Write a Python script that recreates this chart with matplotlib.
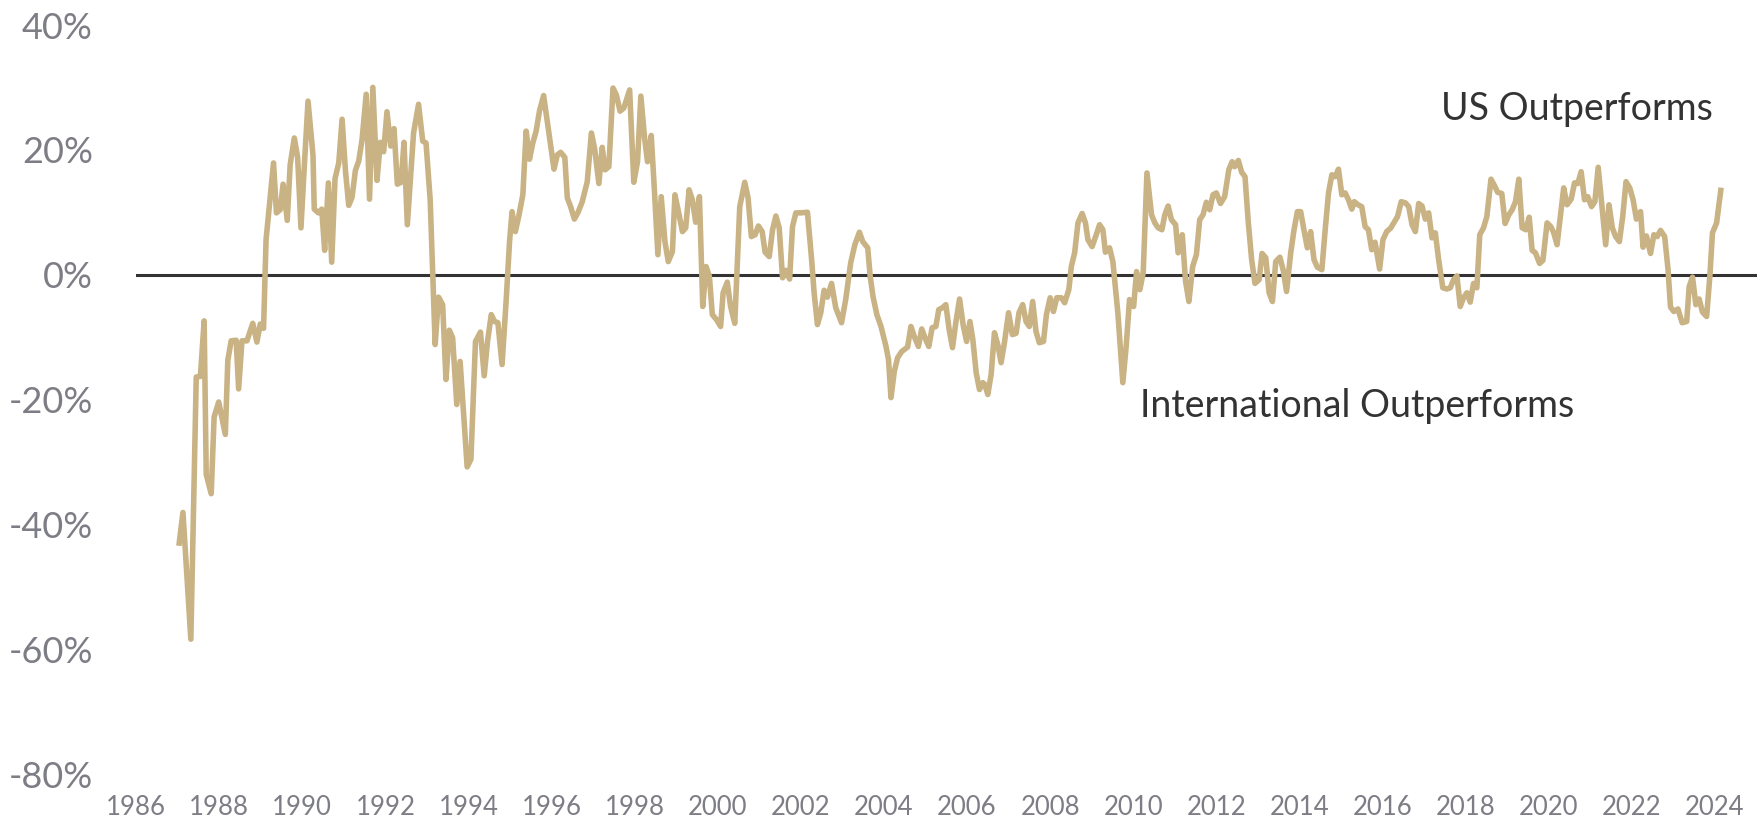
import matplotlib
matplotlib.use("Agg")
import matplotlib.pyplot as plt

# Decimal year of each observation and relative performance (%)
years = [
    1987.04, 1987.13, 1987.32, 1987.45, 1987.55, 1987.64, 1987.69, 1987.81, 1987.88, 1987.99,
    1988.15, 1988.21, 1988.29, 1988.41, 1988.47, 1988.55, 1988.67, 1988.81, 1988.91, 1988.99,
    1989.07, 1989.13, 1989.21, 1989.31, 1989.38, 1989.47, 1989.54, 1989.64, 1989.71, 1989.81,
    1989.89, 1989.97, 1990.05, 1990.14, 1990.26, 1990.29, 1990.39, 1990.47, 1990.54, 1990.63,
    1990.71, 1990.79, 1990.88, 1990.96, 1991.04, 1991.12, 1991.20, 1991.28, 1991.36, 1991.44,
    1991.54, 1991.62, 1991.70, 1991.80, 1991.88, 1991.96, 1992.04, 1992.13, 1992.21, 1992.29,
    1992.38, 1992.45, 1992.53, 1992.68, 1992.80,
    1992.90, 1992.98, 1993.08, 1993.20, 1993.28, 1993.38, 1993.46, 1993.54, 1993.62, 1993.72,
    1993.80, 1993.97, 1994.06, 1994.17, 1994.29, 1994.38, 1994.46, 1994.55, 1994.63, 1994.71,
    1994.81, 1994.91, 1994.99, 1995.05, 1995.13, 1995.21, 1995.31, 1995.39, 1995.47, 1995.55,
    1995.63, 1995.71, 1995.81, 1995.93, 1996.06, 1996.14, 1996.22, 1996.32, 1996.38, 1996.46,
    1996.55, 1996.64, 1996.74, 1996.86, 1996.96, 1997.04, 1997.14, 1997.22, 1997.29, 1997.38,
    1997.48, 1997.56, 1997.65, 1997.74, 1997.88, 1997.98, 1998.07, 1998.15, 1998.24, 1998.31,
    1998.40, 1998.48, 1998.56, 1998.64, 1998.73, 1998.81, 1998.91, 1998.97, 1999.07, 1999.15,
    1999.23,
    1999.31, 1999.39, 1999.47, 1999.56, 1999.64, 1999.72, 1999.80, 1999.87, 1999.97, 2000.07,
    2000.13, 2000.23, 2000.31, 2000.41, 2000.53, 2000.65, 2000.73, 2000.81, 2000.90, 2000.98,
    2001.07, 2001.14, 2001.24, 2001.32, 2001.40, 2001.48, 2001.56, 2001.64, 2001.73, 2001.80,
    2001.88, 2002.00, 2002.16, 2002.26, 2002.32, 2002.40, 2002.48, 2002.56, 2002.64, 2002.74,
    2002.84, 2002.98, 2003.08, 2003.20, 2003.30, 2003.41, 2003.49, 2003.61, 2003.67, 2003.74,
    2003.83, 2003.93, 2004.05, 2004.11, 2004.17, 2004.25, 2004.33, 2004.43, 2004.57, 2004.65,
    2004.73, 2004.83, 2004.91, 2005.00, 2005.08, 2005.16, 2005.25, 2005.32,
    2005.41, 2005.49, 2005.57, 2005.65, 2005.73, 2005.82, 2005.91, 2005.99, 2006.07, 2006.14,
    2006.22, 2006.30, 2006.38, 2006.43, 2006.50, 2006.58, 2006.66, 2006.74, 2006.82, 2006.90,
    2007.00, 2007.09, 2007.18, 2007.25, 2007.34, 2007.42, 2007.50, 2007.58, 2007.66, 2007.74,
    2007.84, 2007.91, 2008.00, 2008.08, 2008.16, 2008.27, 2008.35, 2008.45, 2008.51, 2008.59,
    2008.67, 2008.77, 2008.85, 2008.91, 2009.01, 2009.10, 2009.19, 2009.27, 2009.33, 2009.43,
    2009.51, 2009.63, 2009.75, 2009.83, 2009.91, 2010.01, 2010.08, 2010.16, 2010.24, 2010.33,
    2010.44, 2010.52, 2010.60, 2010.69, 2010.76, 2010.84, 2010.92, 2011.02, 2011.08, 2011.18,
    2011.26, 2011.34, 2011.43, 2011.52, 2011.60, 2011.68,
    2011.76, 2011.84, 2011.92, 2012.00, 2012.10, 2012.20, 2012.30, 2012.38, 2012.44, 2012.53,
    2012.61, 2012.69, 2012.77, 2012.85, 2012.93, 2013.03, 2013.10, 2013.19, 2013.27, 2013.35,
    2013.43, 2013.53, 2013.61, 2013.69, 2013.79, 2013.87, 2013.95, 2014.03, 2014.11, 2014.19,
    2014.27, 2014.35, 2014.43, 2014.54, 2014.62, 2014.70, 2014.78, 2014.86, 2014.94, 2015.02,
    2015.10, 2015.18, 2015.26, 2015.32, 2015.41, 2015.50, 2015.58, 2015.66, 2015.74, 2015.82,
    2015.93, 2016.01, 2016.10, 2016.20, 2016.29, 2016.36, 2016.45, 2016.55, 2016.63, 2016.71,
    2016.79, 2016.87, 2016.95, 2017.03, 2017.11, 2017.19, 2017.27, 2017.35, 2017.45, 2017.55,
    2017.63, 2017.71, 2017.79,
    2017.87, 2017.95, 2018.03, 2018.11, 2018.19, 2018.27, 2018.34, 2018.43, 2018.51, 2018.61,
    2018.70, 2018.77, 2018.87, 2018.95, 2019.04, 2019.12, 2019.20, 2019.28, 2019.36, 2019.45,
    2019.53, 2019.60, 2019.68, 2019.78, 2019.86, 2019.96, 2020.05, 2020.12, 2020.20, 2020.28,
    2020.36, 2020.44, 2020.54, 2020.62, 2020.70, 2020.78, 2020.86, 2020.94, 2021.03, 2021.11,
    2021.19, 2021.29, 2021.37, 2021.45, 2021.53, 2021.61, 2021.70, 2021.78, 2021.86, 2021.95,
    2022.03, 2022.11, 2022.21, 2022.27, 2022.35, 2022.45, 2022.53, 2022.61, 2022.69, 2022.79,
    2022.87, 2022.93, 2023.01, 2023.11, 2023.21, 2023.32, 2023.38, 2023.46, 2023.54, 2023.62,
    2023.70, 2023.80, 2023.88, 2023.94, 2024.04, 2024.14,
]

relative_pct = [
    -43.0, -38.1, -58.4, -16.4, -16.3, -7.4, -32.0, -35.1, -22.8, -20.4,
    -25.6, -13.7, -10.6, -10.5, -18.3, -10.6, -10.6, -7.8, -10.8, -7.9,
    -8.6, 5.6, 11.1, 17.9, 9.9, 10.4, 14.5, 8.7, 17.6, 21.9,
    18.8, 7.5, 17.3, 27.8, 19.1, 10.5, 9.9, 10.5, 3.9, 14.7,
    2.0, 15.4, 17.9, 24.9, 16.7, 11.1, 12.4, 16.7, 18.2, 21.6,
    28.9, 12.1, 30.0, 15.1, 21.2, 19.7, 26.1, 20.6, 23.4, 14.5,
    14.8, 21.2, 8.0, 22.7, 27.3,
    21.4, 21.1, 12.0, -11.2, -3.6, -4.8, -16.8, -8.9, -10.1, -20.8,
    -13.9, -30.8, -29.6, -10.7, -9.2, -16.2, -10.7, -6.4, -7.5, -7.7,
    -14.4, -4.0, 5.3, 10.1, 6.9, 9.3, 12.8, 23.0, 18.5, 21.1,
    23.0, 26.2, 28.7, 23.0, 16.9, 19.2, 19.6, 18.8, 12.3, 10.9,
    8.9, 10.0, 11.7, 14.9, 22.7, 20.1, 14.6, 20.4, 16.8, 17.3,
    29.9, 28.8, 26.2, 26.7, 29.6, 14.8, 18.1, 28.6, 21.9, 18.1,
    22.3, 13.1, 3.2, 12.5, 5.3, 2.1, 3.7, 12.8, 9.6, 6.9,
    7.5,
    13.6, 12.0, 8.4, 12.5, -5.1, 1.3, -0.3, -6.4, -7.2, -8.3,
    -2.9, -1.2, -5.1, -7.8, 10.9, 14.8, 12.3, 6.1, 6.4, 7.8,
    6.9, 3.6, 2.9, 7.2, 9.4, 7.5, -0.5, 0.7, -0.7, 7.7,
    9.9, 9.9, 10.0, 2.4, -2.9, -8.0, -6.1, -2.5, -3.6, -1.4,
    -5.3, -7.7, -4.0, 1.9, 4.8, 6.8, 5.3, 4.3, -0.3, -3.6,
    -6.4, -8.3, -11.5, -13.6, -19.7, -15.5, -13.3, -12.3, -11.6, -8.3,
    -9.9, -11.5, -8.7, -10.3, -11.5, -8.5, -8.3, -5.6,
    -5.3, -4.8, -8.8, -11.7, -7.7, -3.9, -8.2, -10.7, -7.5, -10.4,
    -15.7, -18.4, -17.3, -17.6, -19.2, -16.0, -9.3, -11.2, -14.1, -10.9,
    -6.1, -9.6, -9.4, -6.1, -4.8, -7.5, -8.3, -4.3, -9.1, -10.9,
    -10.7, -6.4, -3.7, -5.9, -3.7, -3.7, -4.5, -2.4, 1.3, 3.5,
    8.3, 9.8, 8.3, 5.6, 4.5, 6.2, 8.0, 7.2, 3.6, 4.3,
    2.1, -6.1, -17.3, -11.5, -4.0, -5.1, 0.5, -2.4, 0.3, 16.3,
    9.6, 8.3, 7.5, 7.2, 9.6, 11.0, 8.8, 8.0, 3.5, 6.4,
    -1.1, -4.3, 1.3, 3.2, 8.8, 9.6,
    11.6, 10.4, 12.8, 13.1, 11.4, 12.5, 16.8, 18.1, 17.3, 18.3,
    16.4, 15.7, 8.3, 2.4, -1.4, -0.8, 3.4, 2.7, -2.9, -4.3,
    2.1, 2.8, 0.7, -2.7, 3.5, 7.2, 10.1, 10.1, 7.1, 4.3,
    6.9, 2.4, 1.2, 0.8, 7.2, 13.1, 16.0, 15.7, 16.9, 12.8,
    13.1, 12.0, 10.5, 11.7, 11.2, 10.9, 7.7, 7.2, 4.0, 5.2,
    0.9, 5.6, 6.9, 7.5, 8.5, 9.3, 11.7, 11.5, 10.9, 8.0,
    6.9, 11.4, 11.0, 8.9, 9.9, 5.9, 6.7, 2.4, -2.1, -2.3,
    -2.1, -0.8, -0.2,
    -5.1, -3.7, -2.9, -4.4, -1.4, -2.1, 6.4, 7.5, 9.3, 15.3,
    14.2, 13.2, 13.0, 8.2, 9.6, 10.4, 11.7, 15.3, 7.5, 7.2,
    9.2, 3.9, 3.5, 1.8, 2.3, 8.3, 7.7, 6.7, 4.8, 9.3,
    13.9, 11.2, 12.1, 14.7, 14.6, 16.5, 12.0, 12.5, 10.9, 11.7,
    17.2, 10.4, 4.8, 11.2, 7.5, 6.1, 5.3, 9.3, 14.9, 13.9,
    12.0, 8.9, 10.1, 4.4, 6.2, 3.4, 6.4, 6.1, 7.1, 6.1,
    0.9, -5.2, -5.9, -5.5, -7.7, -7.5, -1.9, -0.4, -4.8, -3.9,
    -6.0, -6.7, 0.0, 6.7, 8.3, 13.5,
]

year_ticks = list(range(1986, 2025, 2))
pct_ticks = [40, 20, 0, -20, -40, -60, -80]

W, H = 1764, 823
fig = plt.figure(figsize=(W / 100, H / 100), dpi=100)
ax = fig.add_axes([136 / W, 49 / H, (1756.5 - 136) / W, (774 - 25) / H])

ax.plot(years, relative_pct, color="#C9B283", lw=4.0, solid_joinstyle="round", zorder=3)
ax.axhline(0, color="#333333", lw=2.2, zorder=2)

ax.set_xlim(1986, 2025)
ax.set_ylim(-80, 40)

ax.set_yticks(pct_ticks)
ax.set_yticklabels([f"{v}%" for v in pct_ticks], family=["Lato", "DejaVu Sans"],
                   fontsize=26, color="#7d7d85")
ax.set_xticks(year_ticks)
ax.set_xticklabels([str(y) for y in year_ticks], family=["Lato", "DejaVu Sans"],
                   fontsize=18.5, color="#7d7d85")
ax.tick_params(axis="y", length=0, pad=31)
ax.tick_params(axis="x", length=0, pad=15)
for s in ax.spines.values():
    s.set_visible(False)

ax.text(2020.68, 26.5, "US Outperforms", ha="center", va="center",
        fontsize=27, color="#333333", family=["Lato", "DejaVu Sans"])
ax.text(2015.39, -21.1, "International Outperforms", ha="center", va="center",
        fontsize=27, color="#333333", family=["Lato", "DejaVu Sans"])

fig.savefig("out.png", dpi=100, facecolor="white")
